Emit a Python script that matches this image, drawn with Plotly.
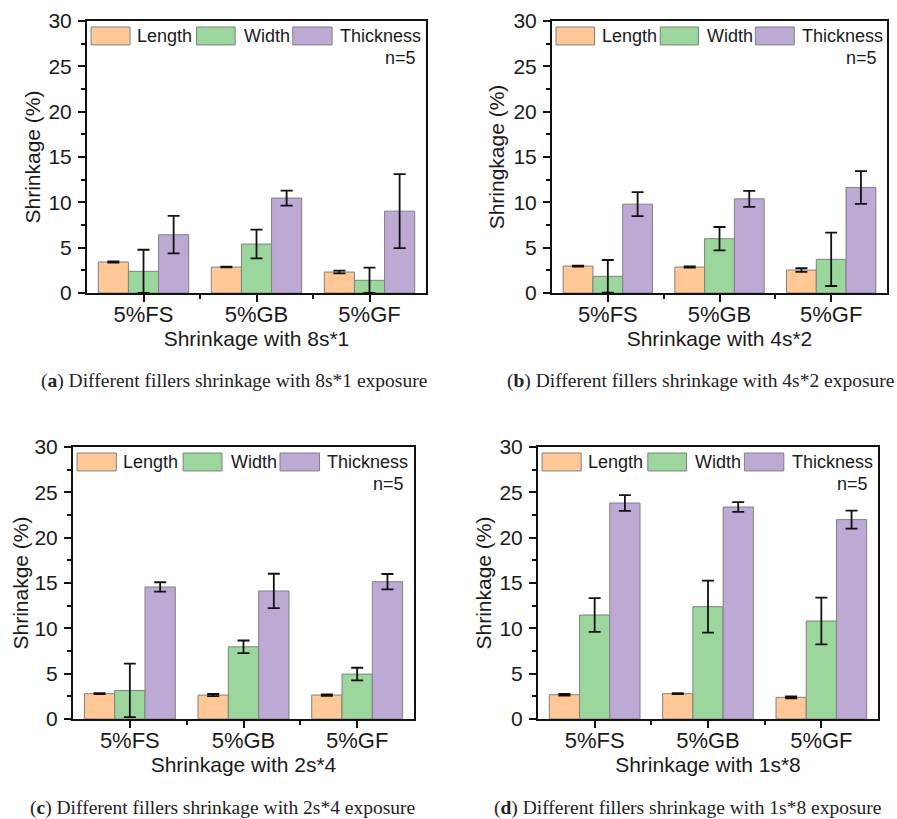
import plotly.graph_objects as go

categories = ["5%FS", "5%GB", "5%GF"]
series_names = ["Length", "Width", "Thickness"]

# Panel (a) 8s*1
a_length = [3.42, 2.86, 2.31]
a_length_err = [0.06, 0.04, 0.15]
a_width = [2.39, 5.40, 1.40]
a_width_err = [2.38, 1.58, 1.40]
a_thick = [6.43, 10.47, 9.03]
a_thick_err = [2.07, 0.83, 4.08]

# Panel (b) 4s*2
b_length = [2.97, 2.86, 2.53]
b_length_err = [0.05, 0.07, 0.20]
b_width = [1.84, 5.99, 3.71]
b_width_err = [1.80, 1.29, 2.94]
b_thick = [9.80, 10.39, 11.64]
b_thick_err = [1.32, 0.88, 1.80]

# Panel (c) 2s*4
c_length = [2.79, 2.64, 2.64]
c_length_err = [0.05, 0.12, 0.08]
c_width = [3.15, 7.96, 4.95]
c_width_err = [2.95, 0.70, 0.70]
c_thick = [14.56, 14.12, 15.14]
c_thick_err = [0.52, 1.90, 0.85]

# Panel (d) 1s*8
d_length = [2.68, 2.79, 2.39]
d_length_err = [0.10, 0.05, 0.10]
d_width = [11.47, 12.39, 10.81]
d_width_err = [1.86, 2.87, 2.57]
d_thick = [23.82, 23.38, 21.99]
d_thick_err = [0.87, 0.53, 1.00]

x_titles = ["Shrinkage with 8s*1", "Shrinkage with 4s*2", "Shrinkage with 2s*4", "Shrinkage with 1s*8"]
y_titles = ["Shrinkage (%)", "Shringkage (%)", "Shrinakge (%)", "Shrinkage (%)"]
captions = [
    ("a", "Different fillers shrinkage with 8s*1 exposure"),
    ("b", "Different fillers shrinkage with 4s*2 exposure"),
    ("c", "Different fillers shrinkage with 2s*4 exposure"),
    ("d", "Different fillers shrinkage with 1s*8 exposure"),
]
y_ticks = [0, 5, 10, 15, 20, 25, 30]
n_label = "n=5"

panels = [
    [(a_length, a_length_err), (a_width, a_width_err), (a_thick, a_thick_err)],
    [(b_length, b_length_err), (b_width, b_width_err), (b_thick, b_thick_err)],
    [(c_length, c_length_err), (c_width, c_width_err), (c_thick, c_thick_err)],
    [(d_length, d_length_err), (d_width, d_width_err), (d_thick, d_thick_err)],
]

colors = ["#FFC896", "#9BD79D", "#BCA9D4"]
W, H = 897, 819
# panel pixel boxes (left, right, top, bottom)
boxes = [(87, 426, 21, 293), (552, 887, 21, 293), (73, 414, 447, 719), (538, 878, 447, 719)]
caption_pos = [(234, 381), (700, 381), (222, 808), (687, 808)]
ytitle_standoff = [2, 3, 0, 2]

SANS = "Liberation Sans, Arial, sans-serif"
SERIF = "Liberation Serif, Times New Roman, serif"
TXT = "#1a1a1a"

fig = go.Figure()
xpos = list(range(len(categories)))

layout = dict(
    width=W, height=H,
    margin=dict(l=0, r=0, t=0, b=0, autoexpand=False),
    paper_bgcolor="white", plot_bgcolor="white",
    barmode="group", bargap=0.2, bargroupgap=0,
    showlegend=False,
    font=dict(family=SANS, color=TXT),
)

shapes = []
annotations = []
for i, (panel, box) in enumerate(zip(panels, boxes)):
    k = "" if i == 0 else str(i + 1)
    xa, ya = "x" + k, "y" + k
    for j, (vals, errs) in enumerate(panel):
        fig.add_trace(go.Bar(
            x=xpos, y=vals, name=series_names[j], xaxis=xa, yaxis=ya,
            marker=dict(color=colors[j], line=dict(color="#808080", width=1)),
            error_y=dict(type="data", array=errs, visible=True, color="#111111", thickness=1.8, width=6),
        ))
    l, r, t, b = box
    layout["xaxis" + k] = dict(
        domain=[l / W, r / W], anchor=ya,
        range=[-0.5, len(categories) - 0.5],
        tickmode="array", tickvals=xpos, ticktext=categories,
        ticks="outside", ticklen=7, tickwidth=1.8, tickcolor="#111111",
        ticklabelstandoff=-6,
        minor=dict(tickmode="array", tickvals=[0.5, 1.5], ticks="outside", ticklen=4, tickwidth=1.8, tickcolor="#111111"),
        showline=True, linecolor="#111111", linewidth=2, mirror=True,
        showgrid=False, zeroline=False,
        tickfont=dict(size=22, family=SANS, color=TXT),
        title=dict(text=x_titles[i], font=dict(size=21, family=SANS, color=TXT), standoff=2),
    )
    layout["yaxis" + k] = dict(
        domain=[1 - b / H, 1 - t / H], anchor=xa,
        range=[0, 30],
        tickmode="array", tickvals=y_ticks,
        ticks="outside", ticklen=7, tickwidth=1.8, tickcolor="#111111",
        ticklabelstandoff=2,
        minor=dict(tickmode="array", tickvals=[2.5, 7.5, 12.5, 17.5, 22.5, 27.5], ticks="outside", ticklen=4, tickwidth=1.5, tickcolor="#111111"),
        showline=True, linecolor="#111111", linewidth=2, mirror=True,
        showgrid=False, zeroline=False,
        tickfont=dict(size=21, family=SANS, color=TXT),
        title=dict(text=y_titles[i], font=dict(size=21, family=SANS, color=TXT), standoff=ytitle_standoff[i]),
    )
    # in-plot legend
    xr, yr = xa + " domain", ya + " domain"
    sw = [(0.012, 0.127, 0.142), (0.323, 0.437, 0.457), (0.607, 0.723, 0.740)]
    for j, (x0, x1, tx) in enumerate(sw):
        shapes.append(dict(type="rect", xref=xr, yref=yr, x0=x0, x1=x1, y0=0.912, y1=0.978,
                           fillcolor=colors[j], line=dict(color="#808080", width=1)))
        annotations.append(dict(xref=xr, yref=yr, x=tx, y=0.945, text=series_names[j], showarrow=False,
                                xanchor="left", yanchor="middle", font=dict(size=18, family=SANS, color=TXT)))
    annotations.append(dict(xref=xr, yref=yr, x=0.976, y=0.864, text=n_label, showarrow=False,
                            xanchor="right", yanchor="middle", font=dict(size=18, family=SANS, color=TXT)))
    letter, rest = captions[i]
    cx, cy = caption_pos[i]
    annotations.append(dict(xref="paper", yref="paper", x=cx / W, y=1 - cy / H,
                            text="(<b>" + letter + "</b>) " + rest, showarrow=False,
                            xanchor="center", yanchor="middle",
                            font=dict(size=19.5, family=SERIF, color="#222222")))

layout["shapes"] = shapes
layout["annotations"] = annotations
fig.update_layout(**layout)
fig.write_html("out.html", config={"displayModeBar": False},
               post_script="document.body.style.margin='0px';")
